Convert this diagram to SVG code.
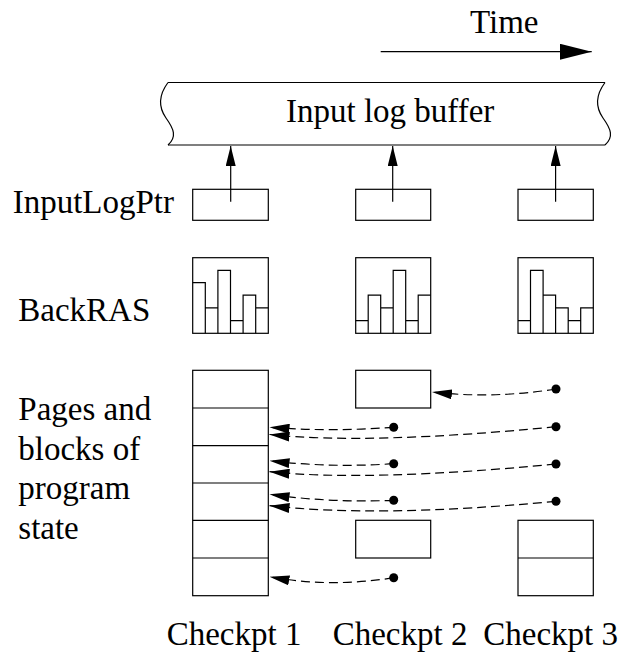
<svg xmlns="http://www.w3.org/2000/svg" width="629" height="653" viewBox="0 0 629 653">
<style>
  text { font-family: "Liberation Serif", Tinos, "Times New Roman", "DejaVu Serif", "Noto Serif", serif; font-size: 33px; fill: #000; }
  .box { fill: none; stroke: #000; stroke-width: 1.2; }
  .ln { fill: none; stroke: #000; stroke-width: 1.2; }
  .dash { fill: none; stroke: #000; stroke-width: 1.2; stroke-dasharray: 9 5; }
  .dot { fill: #000; }
</style>
<defs>
  <marker id="ah" markerUnits="userSpaceOnUse" viewBox="0 0 20 10" markerWidth="20" markerHeight="10" refX="20" refY="5" orient="auto">
    <path d="M0,0 L20,5 L0,10 z" fill="#000"/>
  </marker>
  <marker id="ahBig" markerUnits="userSpaceOnUse" viewBox="0 0 32 16" markerWidth="32" markerHeight="16" refX="32" refY="8" orient="auto">
    <path d="M0,0 L32,8 L0,16 z" fill="#000"/>
  </marker>
</defs>

<g id="time">
  <text x="470" y="33.3" font-family="Liberation Serif, serif">Time</text>
  <line class="ln" x1="380.7" y1="51.7" x2="591.7" y2="51.7" marker-end="url(#ahBig)"/>
</g>

<g id="buffer">
  <line class="ln" x1="168" y1="82.5" x2="605" y2="82.5"/>
  <line class="ln" x1="168" y1="145" x2="605" y2="145"/>
  <path class="ln" d="M168,82.5 C158,96 159,108 166,118 C174,129 177,137 168,145"/>
  <path class="ln" d="M605,82.5 C595,96 596,108 603,118 C611,129 614,137 605,145"/>
  <text x="286" y="121.7" font-family="Liberation Serif, serif">Input log buffer</text>
</g>

<g id="labels" font-family="Liberation Serif, serif">
  <text x="12.7" y="213.3">InputLogPtr</text>
  <text x="18.3" y="321">BackRAS</text>
  <text x="18.3" y="420">Pages and</text>
  <text x="18.3" y="459.5">blocks of</text>
  <text x="18.3" y="499">program</text>
  <text x="18.3" y="538.5">state</text>
  <text x="166.7" y="645">Checkpt 1</text>
  <text x="332.7" y="645">Checkpt 2</text>
  <text x="483.3" y="645">Checkpt 3</text>
</g>

<g id="ptr1"><rect class="box" x="192.7" y="189.3" width="75.6" height="31"/></g>
<g id="ptr2"><rect class="box" x="355.7" y="189.3" width="75" height="31"/></g>
<g id="ptr3"><rect class="box" x="518" y="189.3" width="75.3" height="31"/></g>

<g id="ras1">
  <rect class="box" x="192.7" y="257.7" width="75.6" height="75.6"/>
  <path class="ln" d="M192.7,282.6 H205.3 V333.3 M205.3,307.9 H217.9 V333.3 M217.9,333.3 V270.3 H230.5 V333.3 M230.5,320.7 H243.1 V333.3 M243.1,333.3 V295.2 H255.7 V333.3 M255.7,307.9 H268.3"/>
</g>
<g id="ras2">
  <rect class="box" x="355.7" y="257.7" width="75" height="75.6"/>
  <path class="ln" d="M355.7,320.7 H368.2 V333.3 M368.2,333.3 V295.2 H380.7 V333.3 M380.7,307.9 H393.2 V333.3 M393.2,333.3 V270.3 H405.7 V333.3 M405.7,320.7 H418.2 V333.3 M418.2,333.3 V295.2 H430.7"/>
</g>
<g id="ras3">
  <rect class="box" x="518" y="257.7" width="75.3" height="75.6"/>
  <path class="ln" d="M518,320.7 H530.5 V333.3 M530.5,333.3 V270.3 H543.1 V333.3 M543.1,295.2 H555.6 V333.3 M555.6,307.9 H568.2 V333.3 M568.2,320.7 H580.7 V333.3 M580.7,333.3 V307.9 H593.3"/>
</g>

<g id="pages1">
  <rect class="box" x="192.7" y="370.3" width="75.6" height="225.4"/>
  <path class="ln" d="M192.7,408 H268.3 M192.7,445.7 H268.3 M192.7,483 H268.3 M192.7,520.3 H268.3 M192.7,558 H268.3"/>
</g>
<g id="pages2top"><rect class="box" x="355.7" y="370.3" width="75" height="37.7"/></g>
<g id="pages2bot"><rect class="box" x="355.7" y="520.3" width="75" height="37.7"/></g>
<g id="pages3">
  <rect class="box" x="518" y="520.3" width="75.3" height="75.4"/>
  <line class="ln" x1="518" y1="558" x2="593.3" y2="558"/>
</g>

<g id="connectors">
  <line class="ln" x1="230.7" y1="201.7" x2="230.7" y2="146" marker-end="url(#ah)"/>
  <line class="ln" x1="392.7" y1="201.7" x2="392.7" y2="146" marker-end="url(#ah)"/>
  <line class="ln" x1="555.6" y1="201.7" x2="555.6" y2="146" marker-end="url(#ah)"/>

  <path class="dash" d="M556,389 Q492,399 432,392" marker-end="url(#ah)"/>
  <path class="dash" d="M393.7,427.3 Q330,432 269.5,427.3" marker-end="url(#ah)"/>
  <path class="dash" d="M556,426.7 Q370,445 269.5,434.5" marker-end="url(#ah)"/>
  <path class="dash" d="M393.7,463.7 Q330,468 269.5,460.7" marker-end="url(#ah)"/>
  <path class="dash" d="M556,464 Q370,482 269.5,471.7" marker-end="url(#ah)"/>
  <path class="dash" d="M393.7,500.3 Q330,503 269.5,494.3" marker-end="url(#ah)"/>
  <path class="dash" d="M556,501.3 Q380,518 269.5,505.7" marker-end="url(#ah)"/>
  <path class="dash" d="M393.7,577.7 Q330,588 269.5,576.7" marker-end="url(#ah)"/>

  <circle class="dot" cx="556" cy="389" r="4.5"/>
  <circle class="dot" cx="556" cy="426.7" r="4.5"/>
  <circle class="dot" cx="556" cy="464" r="4.5"/>
  <circle class="dot" cx="556" cy="501.3" r="4.5"/>
  <circle class="dot" cx="393.7" cy="427.3" r="4.5"/>
  <circle class="dot" cx="393.7" cy="463.7" r="4.5"/>
  <circle class="dot" cx="393.7" cy="500.3" r="4.5"/>
  <circle class="dot" cx="393.7" cy="577.7" r="4.5"/>
</g>
</svg>
